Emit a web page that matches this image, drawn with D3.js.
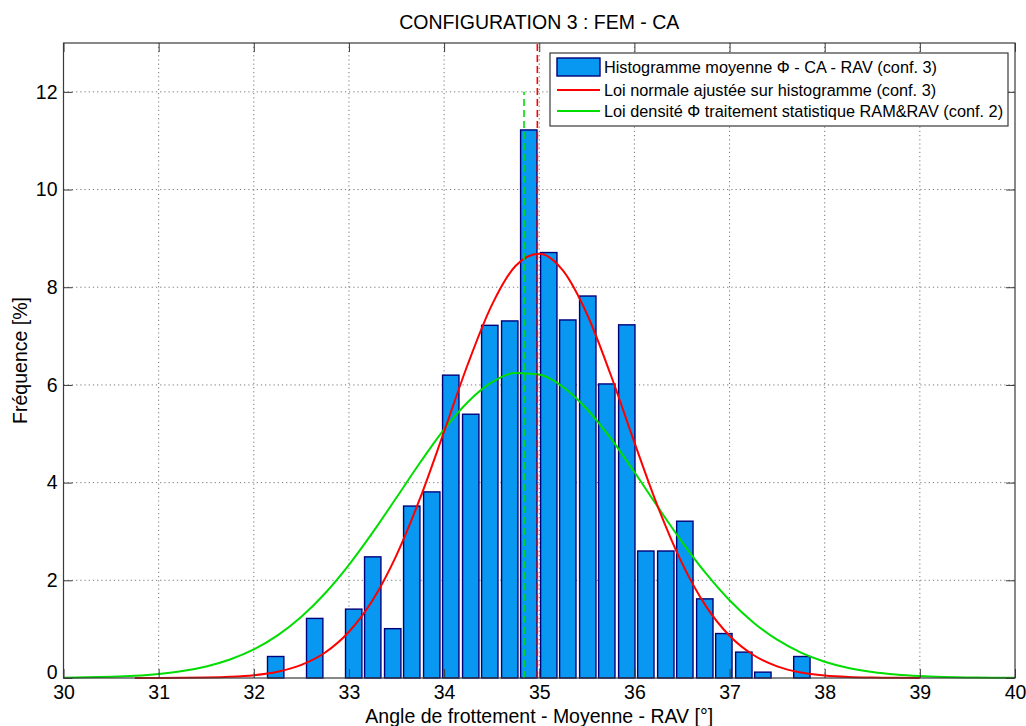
<!DOCTYPE html>
<html>
<head>
<meta charset="utf-8">
<script src="https://cdn.jsdelivr.net/npm/d3@7"></script>
<style>
  html, body { margin: 0; padding: 0; background: #fff; }
  svg { display: block; font-family: "Liberation Sans", Arial, Helvetica, sans-serif; }
</style>
</head>
<body>
<svg id="chart" width="1026" height="726"></svg>
<script>
// ---------- DATA ----------
const title = "CONFIGURATION 3 : FEM - CA";
const xLabel = "Angle de frottement - Moyenne - RAV [°]";
const yLabel = "Fréquence [%]";

const xTicks = [30, 31, 32, 33, 34, 35, 36, 37, 38, 39, 40];
const yTicks = [0, 2, 4, 6, 8, 10, 12];

// histogram bin centres (degrees) and frequencies (%)
const binCenters = [32.23, 32.43, 32.64, 32.84, 33.05, 33.25, 33.46, 33.66, 33.87, 34.07,
                    34.28, 34.48, 34.69, 34.89, 35.10, 35.30, 35.51, 35.71, 35.92, 36.12,
                    36.33, 36.53, 36.74, 36.94, 37.15, 37.35, 37.56, 37.76];
const binFreq    = [0.44, 0, 1.22, 0, 1.41, 2.48, 1.01, 3.52, 3.81, 6.20,
                    5.40, 7.22, 7.31, 11.22, 8.71, 7.33, 7.82, 6.02, 7.23, 2.60,
                    2.60, 3.21, 1.62, 0.91, 0.53, 0.12, 0, 0.44];

// red curve: normal law fitted on histogram (conf. 3)
const redX = [30.75, 31.0, 31.25, 31.5, 31.75, 32.0, 32.25, 32.5, 32.75, 33.0, 33.25, 33.5,
              33.75, 34.0, 34.25, 34.5, 34.75, 35.0, 35.25, 35.5, 35.75, 36.0, 36.25, 36.5,
              36.75, 37.0, 37.25, 37.5, 37.75, 38.0, 38.25, 38.5, 38.75, 39.0];
const redY = [0.000, 0.001, 0.003, 0.009, 0.024, 0.057, 0.128, 0.268, 0.521, 0.946, 1.597, 2.517,
              3.691, 5.046, 6.428, 7.628, 8.434, 8.688, 8.339, 7.457, 6.213, 4.823, 3.488, 2.351,
              1.476, 0.864, 0.471, 0.239, 0.113, 0.050, 0.020, 0.008, 0.003, 0.001];

// green curve: density law of Φ, statistical treatment RAM&RAV (conf. 2)
const greenX = [30.0, 30.25, 30.5, 30.75, 31.0, 31.25, 31.5, 31.75, 32.0, 32.25, 32.5, 32.75,
                33.0, 33.25, 33.5, 33.75, 34.0, 34.25, 34.5, 34.75, 35.0, 35.25, 35.5, 35.75,
                36.0, 36.25, 36.5, 36.75, 37.0, 37.25, 37.5, 37.75, 38.0, 38.25, 38.5, 38.75,
                39.0, 39.25, 39.5, 39.75, 40.0];
const greenY = [0.006, 0.013, 0.025, 0.046, 0.083, 0.142, 0.237, 0.380, 0.586, 0.873, 1.254, 1.736,
                2.317, 2.981, 3.695, 4.416, 5.089, 5.651, 6.051, 6.245, 6.213, 5.958, 5.508, 4.909,
                4.217, 3.492, 2.788, 2.145, 1.591, 1.138, 0.784, 0.521, 0.334, 0.206, 0.123, 0.070,
                0.039, 0.021, 0.011, 0.005, 0.003];

// mean markers (dashed verticals)
const redMean = 34.98;    // up to top of axes
const greenMean = 34.84;  // up to 12 %
const greenMeanTop = 12;

const legendLabels = [
  "Histogramme moyenne Φ - CA - RAV (conf. 3)",
  "Loi normale ajustée sur histogramme (conf. 3)",
  "Loi densité Φ traitement statistique RAM&RAV (conf. 2)"
];

// ---------- LAYOUT ----------
const svg = d3.select("#chart");
const L = 63.5, R = 1015, T = 43, B = 678;
const x = d3.scaleLinear().domain([30, 40]).range([L, R]);
const y = d3.scaleLinear().domain([0, 13]).range([B, T]);

const barColor = "#0898f2", barEdge = "#00007a";
const redColor = "#ff0000", greenColor = "#00dd00";
const axisColor = "#3a3a3a";

// grid
const grid = svg.append("g");
grid.selectAll("line.gx").data(xTicks.slice(1, -1)).join("line")
  .attr("x1", d => x(d)).attr("x2", d => x(d)).attr("y1", B).attr("y2", T)
  .attr("stroke", "#777").attr("stroke-width", 1).attr("stroke-dasharray", "1.2,3");
grid.selectAll("line.gy").data(yTicks.slice(1)).join("line")
  .attr("y1", d => y(d)).attr("y2", d => y(d)).attr("x1", L).attr("x2", R)
  .attr("stroke", "#777").attr("stroke-width", 1).attr("stroke-dasharray", "1.2,3");

// bars
const binW = binCenters[1] - binCenters[0];
const barW = x(30 + binW * 0.86) - x(30);
svg.append("g").selectAll("rect").data(binCenters.map((c, i) => ({c, v: binFreq[i]})).filter(d => d.v > 0))
  .join("rect")
  .attr("x", d => x(d.c) - barW / 2)
  .attr("width", barW)
  .attr("y", d => y(d.v))
  .attr("height", d => y(0) - y(d.v))
  .attr("fill", barColor).attr("stroke", barEdge).attr("stroke-width", 1.4);

// curves
const line = d3.line().x(d => x(d[0])).y(d => y(d[1])).curve(d3.curveMonotoneX);
svg.append("path").datum(greenX.map((v, i) => [v, greenY[i]]))
  .attr("d", line).attr("fill", "none").attr("stroke", greenColor).attr("stroke-width", 2);
svg.append("path").datum(redX.map((v, i) => [v, redY[i]]))
  .attr("d", line).attr("fill", "none").attr("stroke", redColor).attr("stroke-width", 2);

// dashed mean lines
svg.append("line").attr("x1", x(greenMean)).attr("x2", x(greenMean))
  .attr("y1", y(0)).attr("y2", y(greenMeanTop))
  .attr("stroke", greenColor).attr("stroke-width", 1.6).attr("stroke-dasharray", "7,4");
svg.append("line").attr("x1", x(redMean)).attr("x2", x(redMean))
  .attr("y1", y(0)).attr("y2", y(13))
  .attr("stroke", redColor).attr("stroke-width", 1.6).attr("stroke-dasharray", "7,4");

// axes
const fs = "19.5px";
const ax = svg.append("g").attr("transform", `translate(0,${B})`)
  .call(d3.axisBottom(x).tickValues(xTicks).tickSize(-9).tickPadding(7).tickFormat(d3.format("d")));
const ay = svg.append("g").attr("transform", `translate(${L},0)`)
  .call(d3.axisLeft(y).tickValues(yTicks).tickSize(-9).tickPadding(6).tickFormat(d3.format("d")));
const axT = svg.append("g").attr("transform", `translate(0,${T})`)
  .call(d3.axisTop(x).tickValues(xTicks).tickSize(-9).tickFormat(""));
const ayR = svg.append("g").attr("transform", `translate(${R},0)`)
  .call(d3.axisRight(y).tickValues(yTicks).tickSize(-9).tickFormat(""));
[ax, ay, axT, ayR].forEach(g => {
  g.select(".domain").remove();
  g.selectAll(".tick line").attr("stroke", axisColor);
  g.selectAll("text").attr("font-size", fs).attr("fill", "#000")
    .attr("font-family", '"Liberation Sans", Arial, sans-serif');
});
// lift the "0" label slightly so it does not collide with "30"
ay.selectAll(".tick").filter(d => d === 0).select("text").attr("dy", "0.05em");
// frame
svg.append("rect").attr("x", L).attr("y", T).attr("width", R - L).attr("height", B - T)
  .attr("fill", "none").attr("stroke", axisColor).attr("stroke-width", 1.2);

// titles
svg.append("text").attr("x", (L + R) / 2).attr("y", 29).attr("text-anchor", "middle")
  .attr("font-size", fs).text(title);
svg.append("text").attr("x", (L + R) / 2).attr("y", 723).attr("text-anchor", "middle")
  .attr("font-size", fs).text(xLabel);
svg.append("text").attr("transform", `translate(27,${(T + B) / 2}) rotate(-90)`)
  .attr("text-anchor", "middle").attr("font-size", fs).text(yLabel);

// legend
const lg = svg.append("g");
const lgX = 550, lgY = 53, lgW = 458, lgH = 73;
lg.append("rect").attr("x", lgX).attr("y", lgY).attr("width", lgW).attr("height", lgH)
  .attr("fill", "#fff").attr("stroke", axisColor).attr("stroke-width", 1.2);
const rowY = [67, 90, 111];
lg.append("rect").attr("x", 557).attr("y", 58).attr("width", 43).attr("height", 18)
  .attr("fill", barColor).attr("stroke", barEdge).attr("stroke-width", 1.4);
lg.append("line").attr("x1", 557).attr("x2", 600).attr("y1", rowY[1]).attr("y2", rowY[1])
  .attr("stroke", redColor).attr("stroke-width", 2);
lg.append("line").attr("x1", 557).attr("x2", 600).attr("y1", rowY[2]).attr("y2", rowY[2])
  .attr("stroke", greenColor).attr("stroke-width", 2);
lg.selectAll("text").data(legendLabels).join("text")
  .attr("x", 604).attr("y", (d, i) => rowY[i]).attr("dy", "0.35em")
  .attr("font-size", "16.3px").text(d => d);
</script>
</body>
</html>
